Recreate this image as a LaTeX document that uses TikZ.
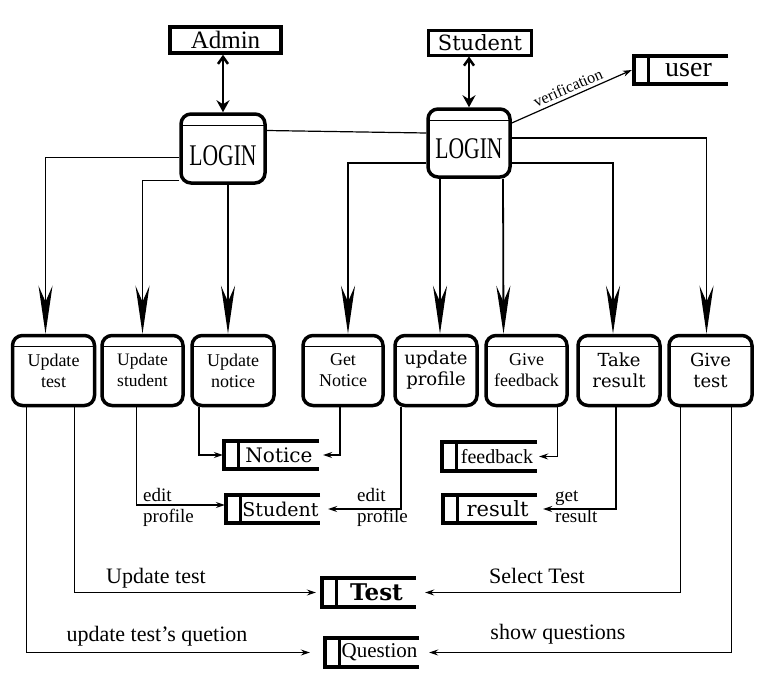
\documentclass[tikz,border=0pt]{standalone}
\usepackage{fontspec}
\setmainfont{Liberation Serif}
\newfontfamily\widefont{DejaVu Serif}
\usetikzlibrary{arrows.meta}

\begin{document}
\begin{tikzpicture}[x=1pt, y=-1pt]
            \tikzstyle{entity} = [draw, line width=3.5pt, inner sep=0pt]
            \tikzstyle{login} = [draw, line width=3.5pt, rounded corners=10pt, minimum width=84pt, minimum height=69pt, inner sep=0pt,
                path picture={\draw[line width=1pt] ([yshift=-11pt]path picture bounding box.north west) -- ([yshift=-11pt]path picture bounding box.north east);}]
            \tikzstyle{proc} = [login, minimum width=81pt, minimum height=70pt, align=center, font=\fontsize{18}{21}\selectfont]
            \tikzstyle{store} = [inner sep=0pt, minimum width=80pt, minimum height=28pt]
            \tikzstyle{flow} = [line width=1.2pt, -{Stealth[length=9pt,width=6pt,inset=3pt]}]
            \tikzstyle{branch} = [line width=1.8pt, -{Stealth[length=48pt,width=14pt,inset=16pt]}]
            \tikzstyle{access} = [line width=2.5pt, {Straight Barb[length=7pt,width=10pt]}-{Stealth[length=12pt,width=13pt,inset=4pt]}]
            \tikzstyle{lbl} = [font=\fontsize{22}{24}\selectfont]
            \tikzstyle{small} = [font=\fontsize{19}{21}\selectfont, align=left, anchor=west, inner sep=0pt]
            \useasboundingbox (0, 0) rectangle (768, 688);
            \node[entity, minimum width=111pt, minimum height=26pt, font=\fontsize{25}{25}\selectfont] (admin) at (225.5, 40) {Admin};
            \node[entity, line width=3pt, minimum width=103pt, minimum height=25pt, font=\widefont\fontsize{21}{21}\selectfont] (student) at (480, 42.5) {Student};
            \node[login, font=\fontsize{30}{30}\selectfont, text height=33pt, text depth=0pt] (lgA) at (223, 148.5) {\scalebox{.72}[1]{LOGIN}};
            \node[login, minimum width=82pt, minimum height=68pt, font=\fontsize{30}{30}\selectfont, text height=30pt, text depth=0pt] (lgB) at (469, 143) {\scalebox{.72}[1]{LOGIN}};
            \node[proc, minimum width=82pt] (uTest) at (53.5, 370.5) {Update\\test};
            \node[proc, font=\fontsize{17.5}{21}\selectfont] (uStud) at (142.5, 370.5) {Update\\student};
            \node[proc, minimum width=82pt] (uNotice) at (233, 370.5) {Update\\notice};
            \node[proc, minimum width=80pt] (gNotice) at (343, 370.5) {Get\\Notice};
            \node[proc, minimum width=82pt, font=\widefont\fontsize{18}{21}\selectfont] (uProf) at (436, 370.5) {update\\profile};
            \node[proc] (gFeed) at (526.5, 370.5) {Give\\feedback};
            \node[proc, minimum width=82pt, font=\widefont\fontsize{18}{21}\selectfont] (tRes) at (619, 370.5) {Take\\result};
            \node[proc, minimum width=83pt, font=\widefont\fontsize{18}{21}\selectfont] (gTest) at (710.5, 370.5) {Give\\test};
            \node[store, minimum width=79pt, font=\fontsize{28}{28}\selectfont] (sUser) at (688.5, 70) {user};
            \node[store, font=\widefont\fontsize{20}{20}\selectfont] (sNotice) at (279, 455) {Notice};
            \node[store, minimum width=79pt, font=\widefont\fontsize{19}{19}\selectfont] (sStud) at (280.5, 509) {Student};
            \node[store, minimum height=29pt, font=\fontsize{20}{20}\selectfont] (sFeed) at (497, 456.5) {feedback};
            \node[store, minimum width=79pt, font=\widefont\fontsize{21}{21}\selectfont] (sRes) at (497.5, 509) {result};
            \node[store, minimum width=79pt, minimum height=29pt, font=\widefont\bfseries\fontsize{23}{23}\selectfont] (sTest) at (376.5, 592.5) {Test};
            \node[store, minimum width=79pt, minimum height=29pt, font=\fontsize{21}{21}\selectfont] (sQues) at (379.5, 652.5) {Question};
            \foreach \s in {sUser, sNotice, sStud, sFeed, sRes, sTest, sQues} {
                \draw[line width=3.8pt] (\s.north east) -- ([xshift=-15pt]\s.north west) -- ([xshift=-15pt]\s.south west) -- (\s.south east);
                \draw[line width=2.8pt] (\s.north west) -- (\s.south west);
            }
            \node[lbl] (lUpd) at (156, 578) {Update test};
            \node[lbl] (lQue) at (157, 636) {update test's quetion};
            \node[lbl] (lSel) at (537, 576) {Select Test};
            \node[lbl] (lShow) at (558, 634) {show questions};
            \node[small] (lEditA) at (143, 507) {edit\\profile};
            \node[small] (lEditB) at (357, 507) {edit\\profile};
            \node[small] (lGet) at (555, 507) {get\\result};
            \draw[access] (admin.south -| lgA.north) -- (lgA.north);
            \draw[access] (student.south -| lgB.north) -- (lgB.north);
            \draw[flow] ([yshift=20pt]lgB.east) -- ([xshift=-17pt]sUser.west) node[midway, sloped, above, font=\fontsize{16}{16}\selectfont] {verification};
            \draw[line width=1.2pt] ([yshift=18pt]lgA.east) -- ([yshift=10pt]lgB.west);
            \draw[branch] ([yshift=-9pt]lgA.west) -| ([xshift=-8pt]uTest.north);
            \draw[branch] ([yshift=-32pt]lgA.west) -| (uStud.north);
            \draw[branch] ([xshift=5pt]lgA.south) -- ([xshift=-5pt]uNotice.north);
            \draw[branch] ([yshift=-20pt]lgB.west) -| ([xshift=5pt]gNotice.north);
            \draw[branch] ([xshift=-29pt]lgB.south) -- ([xshift=4pt]uProf.north);
            \draw[branch] ([xshift=34pt]lgB.south) -- ([xshift=-23pt]gFeed.north);
            \draw[branch] ([yshift=-20pt]lgB.east) -| ([xshift=-6pt]tRes.north);
            \draw[branch] ([yshift=5pt]lgB.east) -| ([xshift=-4pt]gTest.north);
            \draw[flow] ([xshift=-34pt]uNotice.south) |- ([xshift=-16pt]sNotice.west);
            \draw[flow] ([xshift=-3pt]gNotice.south) |- ([xshift=4pt]sNotice.east);
            \draw[flow] ([xshift=-6pt]uStud.south) |- ([xshift=-16pt, yshift=4pt]sStud.west);
            \draw[flow] ([xshift=-35pt]uProf.south) |- ([xshift=8pt]sStud.east);
            \draw[flow] ([xshift=31pt]gFeed.south) |- ([xshift=2pt]sFeed.east);
            \draw[flow] ([xshift=-3pt]tRes.south) |- ([xshift=6pt]sRes.east);
            \draw[flow] ([xshift=21pt]uTest.south) |- ([xshift=-21pt]sTest.west);
            \draw[flow] ([xshift=-27pt]uTest.south) |- ([xshift=-30pt]sQues.west);
            \draw[flow] ([xshift=-30pt]gTest.south) |- ([xshift=9pt]sTest.east);
            \draw[flow] ([xshift=21pt]gTest.south) |- ([xshift=10pt]sQues.east);
        \end{tikzpicture}
\end{document}
